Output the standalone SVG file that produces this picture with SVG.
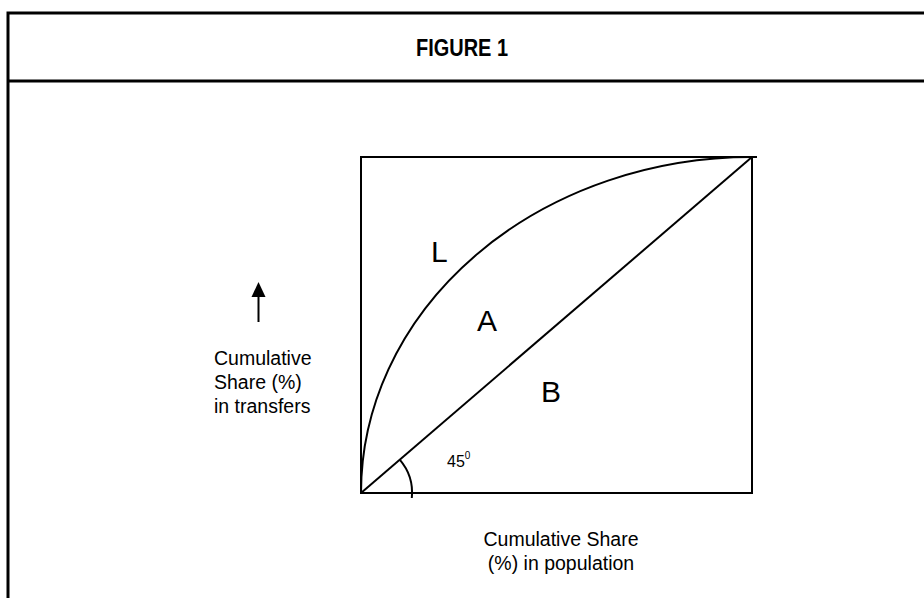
<svg xmlns="http://www.w3.org/2000/svg" width="924" height="598" viewBox="0 0 924 598">
<style>
.frame{fill:none;stroke:#000;stroke-width:3}
.ln{fill:none;stroke:#000;stroke-width:2}
.t{font-family:"Liberation Sans",Arial,sans-serif;fill:#000}
.lbl{font-size:30px}
.ax{font-size:19.5px}
</style>
<rect width="924" height="598" fill="#fff"/>
<g id="frame">
<path class="frame" d="M8,600 V13 H930"/>
<line class="frame" x1="8" y1="81" x2="930" y2="81"/>
<text class="t" x="416" y="56" font-size="24.5" font-weight="bold" textLength="92" lengthAdjust="spacingAndGlyphs">FIGURE 1</text>
</g>
<g id="chart">
<rect class="ln" x="361" y="157" width="391" height="336"/>
<path class="ln" d="M361,493 A391,336 0 0 1 752,157 L757,157"/>
<path class="ln" d="M361,493 L752,157"/>
<path class="ln" d="M399.7,459.7 A51,51 0 0 1 411.8,498"/>
</g>
<g id="labels">
<text class="t lbl" x="431" y="262">L</text>
<text class="t lbl" x="477" y="331">A</text>
<text class="t lbl" x="541" y="402">B</text>
<text class="t" x="447" y="467" font-size="16">45<tspan dy="-8.5" font-size="10">0</tspan></text>
</g>
<g id="connectors">
<line x1="258.5" y1="295" x2="258.5" y2="322" stroke="#000" stroke-width="2"/>
<polygon points="251.5,297 258.5,282 265.5,297" fill="#000"/>
</g>
<g id="ylabel">
<text class="t ax" x="214" y="365">Cumulative</text>
<text class="t ax" x="214" y="389">Share (%)</text>
<text class="t ax" x="214" y="413">in transfers</text>
</g>
<g id="xlabel">
<text class="t ax" x="561" y="546" text-anchor="middle">Cumulative Share</text>
<text class="t ax" x="561" y="570" text-anchor="middle">(%) in population</text>
</g>
</svg>
